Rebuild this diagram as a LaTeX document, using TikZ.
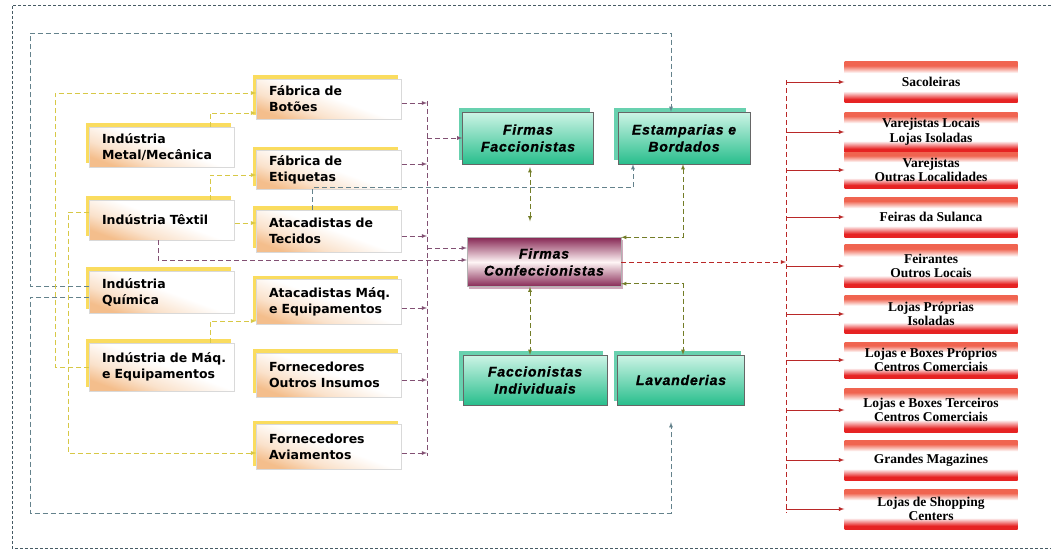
\documentclass[tikz,border=0pt]{standalone}
\usepackage{fontspec}
\usepackage{tikz}
\usetikzlibrary{positioning}
\usetikzlibrary{shadows}
\usetikzlibrary{arrows}
\newfontfamily\srcfont{DejaVu Sans}
\newfontfamily\firmfont[LetterSpace=6, FakeBold=1.2, UprightFont={* Bold Italic}]{Liberation Sans}
\newfontfamily\outletfont{Liberation Serif}
\definecolor{boxyellow}{RGB}{250,220,95}
\definecolor{boxpeach}{RGB}{244,190,140}
\definecolor{greentop}{RGB}{205,244,230}
\definecolor{greenbot}{RGB}{40,190,140}
\definecolor{confecmaroon}{RGB}{135,40,85}
\definecolor{redbox}{RGB}{230,35,35}
\definecolor{redtop}{RGB}{240,100,80}
\definecolor{framegray}{RGB}{70,90,100}
\definecolor{bluegray}{RGB}{100,130,140}
\definecolor{yellowline}{RGB}{215,200,70}
\definecolor{purpleline}{RGB}{130,80,115}
\definecolor{oliveline}{RGB}{115,125,40}
\definecolor{redline}{RGB}{185,40,40}
\pgfdeclareverticalshading{outletstripe}{100bp}{color(0bp)=(redbox); color(25bp)=(redbox); color(29bp)=(redbox); color(39bp)=(white); color(61bp)=(white); color(70bp)=(redtop); color(75bp)=(redtop); color(100bp)=(redtop)}
\pgfdeclareverticalshading{industryglow}{100bp}{color(0bp)=(boxpeach); color(25bp)=(boxpeach); color(36bp)=(boxpeach!45); color(52bp)=(white); color(75bp)=(white); color(100bp)=(white)}
\tikzset{industry/.style={
          rectangle, draw=gray!30, align=left,
          text width=120pt, inner xsep=12.5pt, inner ysep=2pt,
          shading=industryglow, shading angle=-20,
          general shadow={fill=boxyellow, shadow xshift=-4pt, shadow yshift=4pt},
          font=\srcfont\bfseries\fontsize{12.5}{16}\selectfont
          },
        firm/.style={
          rectangle, draw=black!60, align=center, inner sep=2pt,
          top color=greentop, bottom color=greenbot,
          general shadow={fill=greenbot!70, shadow xshift=-4pt, shadow yshift=4pt},
          font=\firmfont\fontsize{14}{17}\selectfont
          },
        confecbox/.style={
          rectangle, draw=gray!60, align=center, inner sep=2pt,
          top color=confecmaroon, bottom color=confecmaroon, middle color=pink!15,
          general shadow={fill=confecmaroon!40, shadow xshift=2pt, shadow yshift=-2pt},
          font=\firmfont\fontsize{14}{17}\selectfont
          },
        outlet/.style={
          rectangle, align=center, inner sep=2pt, minimum width=173pt,
          shading=outletstripe,
          font=\outletfont\bfseries\fontsize{13.5}{14.5}\selectfont
          },
        outerframe/.style={draw=framegray, dash pattern=on 3pt off 2pt, line width=0.8pt},
        bluelink/.style={draw=bluegray, dash pattern=on 5pt off 3pt, line width=0.8pt},
        yellowlink/.style={draw=yellowline, dash pattern=on 5pt off 3pt, line width=0.9pt},
        purplelink/.style={draw=purpleline, dash pattern=on 5pt off 3pt, line width=0.8pt},
        olivelink/.style={draw=oliveline, dash pattern=on 5pt off 3pt, line width=0.8pt},
        redlink/.style={draw=redline, dash pattern=on 5pt off 3pt, line width=0.8pt},
        redarrow/.style={draw=redline, line width=0.9pt},
}

\begin{document}
\begin{tikzpicture}[x=1pt, y=-1pt, >=latex]
      \useasboundingbox (0,0) rectangle (1051,551);
      % \draw[help lines] (0,0) grid[step=50] (1051,551);
      % OUTER FRAME
      \draw[outerframe] (1051,5) -- (12,5) -- (12,548) -- (1051,548);

      % INDUSTRIES
      \node[industry, minimum height=40pt] (metal) at (162,147) {Indústria\\Metal/Mecânica};
      \node[industry, minimum height=40pt] (textil) at (162,220) {Indústria Têxtil};
      \node[industry, minimum height=42pt] (quimica) at (162,292) {Indústria\\Química};
      \node[industry, minimum height=48pt] (maq) at (162,367) {Indústria~de~Máq.\\e Equipamentos};

      % SUPPLIERS
      \node[industry, minimum height=40pt] (botoes) at (329,99) {Fábrica de\\Botões};
      \node[industry, minimum height=39pt] (etiquetas) at (329,170) {Fábrica de\\Etiquetas};
      \node[industry, minimum height=42pt] (tecidos) at (329,231) {Atacadistas~de\\Tecidos};
      \node[industry, minimum height=45pt] (atacmaq) at (329,302) {Atacadistas~Máq.\\e Equipamentos};
      \node[industry, minimum height=44pt] (outros) at (329,375) {Fornecedores\\Outros Insumos};
      \node[industry, minimum height=45pt] (aviam) at (329,447) {Fornecedores\\Aviamentos};

      % FIRMS
      \node[firm, minimum width=131pt, minimum height=52pt] (faccion) at (528,138) {Firmas\\Faccionistas};
      \node[firm, minimum width=132pt, minimum height=52pt] (estamp) at (684,138) {Estamparias e\\Bordados};
      \node[confecbox, minimum width=154pt, minimum height=49pt] (confec) at (544,262) {Firmas\\Confeccionistas};
      \node[firm, minimum width=144pt, minimum height=50pt] (faccind) at (535,380) {Faccionistas\\Individuais};
      \node[firm, minimum width=127pt, minimum height=50pt] (lavand) at (681,380) {Lavanderias};

      % OUTLETS
      \node[outlet, minimum height=41pt] (sacoleiras) at (931,82) {Sacoleiras};
      \node[outlet, minimum height=40pt] (varlocais) at (931,132) {Varejistas Locais\\Lojas Isoladas};
      \node[outlet, minimum height=36pt] (varoutras) at (931,170) {Varejistas\\Outras Localidades};
      \node[outlet, minimum height=40pt] (feiras) at (931,217) {Feiras da Sulanca};
      \node[outlet, minimum height=43pt] (feirantes) at (931,266) {Feirantes\\Outros Locais};
      \node[outlet, minimum height=38pt] (lojasprop) at (931,314) {Lojas Próprias\\Isoladas};
      \node[outlet, minimum height=36pt] (boxesprop) at (931,360) {Lojas e Boxes Próprios\\Centros Comerciais};
      \node[outlet, minimum height=44pt] (boxester) at (931,410) {Lojas e Boxes Terceiros\\Centros Comerciais};
      \node[outlet, minimum height=40pt] (grandes) at (931,460) {Grandes Magazines};
      \node[outlet, minimum height=40pt] (shopping) at (931,509) {Lojas de Shopping\\Centers};

      % WIRING
      % quimica round the frame
      \coordinate (fl) at (30,33);
      \coordinate (fb) at (30,513);
      \coordinate (fx) at (671,0);
      \draw[bluelink, ->] ([yshift=6pt]quimica.west) -- ([yshift=6pt]quimica.west -| fl) -- (fl) -| (fx |- estamp.north);
      \draw[bluelink, ->, shorten >=17pt] ([yshift=-5pt]quimica.west) -- ([yshift=-5pt]quimica.west -| fb) -- (fb) -| (fx |- lavand.south);
      \draw[bluelink, ->] ([xshift=-17pt]tecidos.north) -- ++(0,-22) -| ([xshift=-51pt]estamp.south);

      % industries to suppliers
      \coordinate (ya) at (55,0);
      \coordinate (yb) at (68,0);
      \coordinate (yc) at (210,0);
      \draw[yellowlink, ->] (maq.west) -- (maq.west -| ya) |- ([yshift=6pt]botoes.west);
      \draw[yellowlink, ->] ([yshift=8pt]textil.west) -- ([yshift=8pt]textil.west -| yb) |- ([yshift=-6pt]aviam.west);
      \draw[yellowlink, ->] (yc |- metal.north) |- ([yshift=-14pt]botoes.west);
      \draw[yellowlink, ->] (yc |- textil.north) |- ([yshift=-5pt]etiquetas.west);
      \draw[yellowlink, ->] ([yshift=-3pt]textil.east) -- ([yshift=-3pt]textil.east -| tecidos.west);
      \draw[yellowlink, ->] (yc |- maq.north) |- ([yshift=-19pt]atacmaq.west);

      % suppliers to firms
      \coordinate (ptop) at (427,101);
      \coordinate (pbot) at (427,456);
      \draw[purplelink] (ptop) -- (pbot);
      \draw[purplelink, ->] ([yshift=-4pt]botoes.east) -- ([yshift=-4pt]botoes.east -| ptop);
      \draw[purplelink, ->] ([yshift=6pt]etiquetas.east) -- ([yshift=6pt]etiquetas.east -| ptop);
      \draw[purplelink, ->] ([yshift=-5pt]tecidos.east) -- ([yshift=-5pt]tecidos.east -| ptop);
      \draw[purplelink, ->] ([yshift=-6pt]atacmaq.east) -- ([yshift=-6pt]atacmaq.east -| ptop);
      \draw[purplelink, ->] ([yshift=-5pt]outros.east) -- ([yshift=-5pt]outros.east -| ptop);
      \draw[purplelink, ->] ([yshift=-6pt]aviam.east) -- ([yshift=-6pt]aviam.east -| ptop);
      \draw[purplelink, ->] (ptop |- faccion.west) -- (faccion.west);
      \draw[purplelink, ->] ([yshift=14pt]confec.west -| ptop) -- ([yshift=14pt]confec.west);
      \draw[purplelink, ->] ([xshift=-4pt]textil.south) |- ([yshift=2pt]confec.west);

      % firms to confeccionistas
      \coordinate (gx) at (530,0);
      \coordinate (gy) at (683,0);
      \draw[olivelink, <->, shorten <=3pt, shorten >=16pt] (gx |- faccion.south) -- (gx |- confec.north);
      \draw[olivelink, <->] (gx |- confec.south) -- (gx |- faccind.north);
      \draw[olivelink, <->] (gy |- estamp.south) |- (confec.north east);
      \draw[olivelink, <->] ([yshift=3pt]confec.south east) -| (gy |- lavand.north);

      % confeccionistas to outlets
      \coordinate (rtop) at (786,80);
      \coordinate (rbot) at (786,513);
      \draw[redlink, ->] (confec.east) -- (confec.east -| rtop);
      \draw[redlink] (rtop) -- (rbot);
      \draw[redarrow, ->] (rtop |- sacoleiras.west) -- (sacoleiras.west);
      \draw[redarrow, ->] (rtop |- varlocais.west) -- (varlocais.west);
      \draw[redarrow, ->] (rtop |- varoutras.west) -- (varoutras.west);
      \draw[redarrow, ->] (rtop |- feiras.west) -- (feiras.west);
      \draw[redarrow, ->] (rtop |- feirantes.west) -- (feirantes.west);
      \draw[redarrow, ->] (rtop |- lojasprop.west) -- (lojasprop.west);
      \draw[redarrow, ->] (rtop |- boxesprop.west) -- (boxesprop.west);
      \draw[redarrow, ->] (rtop |- boxester.west) -- (boxester.west);
      \draw[redarrow, ->] (rtop |- grandes.west) -- (grandes.west);
      \draw[redarrow, ->] (rtop |- shopping.west) -- (shopping.west);
\end{tikzpicture}
\end{document}
